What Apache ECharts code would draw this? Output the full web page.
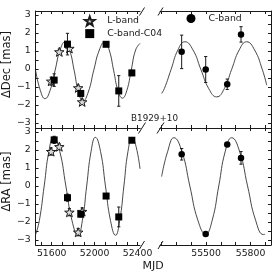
<!DOCTYPE html>
<html><head><meta charset="utf-8">
<script src="https://cdn.jsdelivr.net/npm/echarts@6/dist/echarts.min.js"></script>
<style>html,body{margin:0;padding:0;background:#fff}#c{width:274px;height:274px}</style>
</head><body><div id="c"></div>
<script>
// ---------- data ----------
const lbandMJD    = [51595, 51671, 51765, 51847, 51884];
const lbandDec    = [-0.68, 0.95, 1.14, -1.05, -1.83];
const lbandDecErr = [0.22, 0.15, 0.15, 0.15, 0.15];
const lbandRA     = [1.91, 2.18, -1.46, -2.57, -1.42];
const lbandRAErr  = [0.2, 0.15, 0.2, 0.2, 0.2];

const c04MJD    = [51623, 51747, 51871, 52107, 52225, 52347];
const c04Dec    = [-0.62, 1.38, -1.36, 1.37, -1.22, -0.22];
const c04DecErr = [0.35, 0.6, 0.15, 0.1, 0.85, 0.15];
const c04RA     = [2.56, -0.65, -1.57, -0.56, -1.72, 2.54];
const c04RAErr  = [0.2, 0.2, 0.15, 0.1, 0.55, 0.1];

const cbandMJD    = [55336, 55498, 55643, 55736];
const cbandDec    = [0.95, -0.03, -0.85, 1.92];
const cbandDecErr = [0.93, 0.72, 0.29, 0.43];
const cbandRA     = [1.76, -2.67, 2.30, 1.56];
const cbandRAErr  = [0.32, 0.08, 0.08, 0.35];

// model curves (points read along the drawn fit)
const modelDecEarlyMJD = [51450,51494,51538,51585,51632,51678,51725,51767,51809,51850,51891,51941,51992,52044,52095,52136,52177,52218,52259,52300,52341,52382,52423];
const modelDecEarly    = [-0.07,-1.19,-1.65,-1.19,-0.07,1.05,1.51,1.05,-0.07,-1.28,-1.78,-1.28,-0.07,1.05,1.51,1.05,-0.07,-1.2,-1.62,-1.2,-0.07,1.05,1.42];
const modelRAEarlyMJD  = [51450,51485,51530,51574,51618,51675,51732,51789,51845,51886,51926,51967,52007,52055,52101,52148,52195,52234,52273,52311,52350,52386,52423];
const modelRAEarly     = [-2.70,-1.92,0,1.92,2.72,1.92,0,-1.92,-2.74,-1.92,0,1.92,2.70,1.92,0,-1.92,-2.74,-1.92,0,1.92,2.68,2.2,0.95];
const modelDecLateMJD  = [55201,55220,55265,55311,55358,55412,55465,55519,55572,55623,55673,55724,55774,55827,55879,55909];
const modelDecLate     = [-1.36,-1.08,-0.02,1.06,1.51,1.06,-0.02,-1.1,-1.55,-1.1,-0.02,1.06,1.51,1.06,-0.02,-0.9];
const modelRALateMJD   = [55201,55241,55284,55338,55391,55445,55498,55542,55586,55629,55673,55727,55780,55834,55887,55898];
const modelRALate      = [0.52,1.9,2.68,1.9,0,-1.9,-2.67,-1.9,0,1.9,2.68,1.9,0,-1.9,-2.7,-2.68];

// axes
const earlyRange = [51450, 52423];
const lateRange  = [55190, 55938];
const yRange     = [-3.28, 3.22];
const earlyTicks  = [51500,51600,51700,51800,51900,52000,52100,52200,52300,52400];
const earlyLabels = [51600, 52000, 52400];
const lateTicks   = [55200,55300,55400,55500,55600,55700,55800,55900];
const lateLabels  = [55500, 55800];
const yTicks  = [-3,-2.5,-2,-1.5,-1,-0.5,0,0.5,1,1.5,2,2.5,3];
const yLabels = [-3,-2,-1,0,1,2,3];

// ---------- chart ----------
const INK = '#1a1a1a';
const FONT = 'DejaVu Sans';
const zip = (xs, ys) => xs.map((x, i) => [x, ys[i]]);
const zip3 = (xs, ys, es) => xs.map((x, i) => [x, ys[i], es[i]]);
const STAR = 'path://M0,-10 L2.35,-3.24 L9.51,-3.09 L3.8,1.24 L5.88,8.09 L0,4 L-5.88,8.09 L-3.8,1.24 L-9.51,-3.09 L-2.35,-3.24 Z';
const SQUARE = 'path://M0,0 L10,0 L10,10 L0,10 Z';
const DOT = 'path://M5,0 A5,5 0 1 1 4.99,0 Z';

function errItem(params, api) {
  const x = api.value(0), y = api.value(1), e = api.value(2);
  const t = api.coord([x, y + e]), b = api.coord([x, y - e]);
  const c = 1.6, st = {stroke: INK, lineWidth: 1};
  return {type: 'group', children: [
    {type: 'line', shape: {x1: t[0], y1: t[1], x2: b[0], y2: b[1]}, style: st},
    {type: 'line', shape: {x1: t[0]-c, y1: t[1], x2: t[0]+c, y2: t[1]}, style: st},
    {type: 'line', shape: {x1: b[0]-c, y1: b[1], x2: b[0]+c, y2: b[1]}, style: st}
  ]};
}

const grids = [
  {left: 33, top: 11, width: 107, height: 117},
  {left: 160, top: 11, width: 111, height: 117},
  {left: 33, top: 128, width: 107, height: 117},
  {left: 160, top: 128, width: 111, height: 117}
];

const xAxes = [], yAxes = [];
grids.forEach((g, i) => {
  const early = (i % 2 === 0);
  const range = early ? earlyRange : lateRange;
  const ticks = early ? earlyTicks : lateTicks;
  const labels = early ? earlyLabels : lateLabels;
  const bottomRow = i >= 2;
  ['bottom', 'top'].forEach(pos => {
    xAxes.push({
      type: 'value', gridIndex: i, position: pos, min: range[0], max: range[1],
      axisLine: {show: true, onZero: false, lineStyle: {color: INK, width: 1}},
      axisTick: {show: true, inside: true, length: 3, customValues: ticks, lineStyle: {color: INK}},
      axisLabel: {show: pos === 'bottom' && bottomRow, customValues: labels, margin: 4,
        color: INK, fontSize: 9.3, fontFamily: FONT, formatter: v => String(v)},
      splitLine: {show: false}
    });
  });
  yAxes.push({
    type: 'value', gridIndex: i, position: early ? 'left' : 'right', min: yRange[0], max: yRange[1],
    axisLine: {show: true, onZero: false, lineStyle: {color: INK, width: 1}},
    axisTick: {show: true, inside: true, length: 3, customValues: yTicks, lineStyle: {color: INK}},
    axisLabel: {show: early, customValues: yLabels, margin: 5, color: INK, fontSize: 9.3, fontFamily: FONT,
      formatter: v => (v < 0 ? '\u2212' + (-v) : '' + v)},
    splitLine: {show: false},
    name: early ? (i === 0 ? 'ΔDec [mas]' : 'ΔRA [mas]') : '',
    nameLocation: 'middle', nameGap: 20,
    nameTextStyle: {color: INK, fontSize: 11.5, fontFamily: FONT, padding: [0, 0, 0, 10]}
  });
});

const series = [];
function addPanel(gi, modelX, modelY, sets) {
  series.push({type: 'line', xAxisIndex: gi*2, yAxisIndex: gi, data: zip(modelX, modelY),
    showSymbol: false, smooth: 0.5, lineStyle: {color: '#333', width: 0.9}, silent: true, z: 1});
  sets.forEach(s => {
    series.push({type: 'custom', xAxisIndex: gi*2, yAxisIndex: gi, renderItem: errItem,
      data: zip3(s.x, s.y, s.e), z: s.z, silent: true});
    series.push({type: 'scatter', name: s.name, xAxisIndex: gi*2, yAxisIndex: gi, data: zip(s.x, s.y),
      symbol: s.symbol, symbolSize: s.size, symbolKeepAspect: true, z: s.z + 1,
      itemStyle: {color: s.fill, borderColor: INK, borderWidth: s.bw, opacity: 1}});
  });
}
const L = (y, e) => ({name: 'L-band', x: lbandMJD, y, e, symbol: STAR, size: 9.5, fill: '#d8d8d8', bw: 1, z: 3});
const C4 = (y, e) => ({name: 'C-band-C04', x: c04MJD, y, e, symbol: SQUARE, size: 7, fill: '#000', bw: 0, z: 5});
const CB = (y, e) => ({name: 'C-band', x: cbandMJD, y, e, symbol: DOT, size: 6.5, fill: '#000', bw: 0, z: 5});

addPanel(0, modelDecEarlyMJD, modelDecEarly, [L(lbandDec, lbandDecErr), C4(c04Dec, c04DecErr)]);
addPanel(1, modelDecLateMJD, modelDecLate, [CB(cbandDec, cbandDecErr)]);
addPanel(2, modelRAEarlyMJD, modelRAEarly, [L(lbandRA, lbandRAErr), C4(c04RA, c04RAErr)]);
addPanel(3, modelRALateMJD, modelRALate, [CB(cbandRA, cbandRAErr)]);

// axis-break marks
const slash = (cx, cy, dx, dy) => ({type: 'line', silent: true,
  shape: {x1: cx - dx, y1: cy + dy, x2: cx + dx, y2: cy - dy}, style: {stroke: INK, lineWidth: 1}});
const breaks = [];
[142, 160.5].forEach(cx => {
  breaks.push(slash(cx, 11.5, 2.5, 4));
  breaks.push(slash(cx, 128, 3.5, 5.5));
  breaks.push(slash(cx, 245, 2.5, 4));
});

const chart = echarts.init(document.getElementById('c'), null, {renderer: 'canvas'});
chart.setOption({
  animation: false,
  backgroundColor: '#fff',
  textStyle: {fontFamily: FONT},
  title: {text: 'B1929+10', left: 131, top: 114.5, padding: 0,
    textStyle: {color: INK, fontSize: 8.8, fontWeight: 'normal', fontFamily: FONT}},
  legend: [
    {data: ['L-band', 'C-band-C04'], orient: 'vertical', left: 84, top: 15.5, padding: 0,
      itemWidth: 25, itemHeight: 9, itemGap: 2.6, selectedMode: false,
      textStyle: {color: INK, fontSize: 9.3, fontFamily: FONT}},
    {data: ['C-band'], orient: 'vertical', left: 186.5, top: 14, padding: 0,
      itemWidth: 25, itemHeight: 9, selectedMode: false,
      textStyle: {color: INK, fontSize: 9.3, fontFamily: FONT}}
  ],
  grid: grids,
  xAxis: xAxes,
  yAxis: yAxes,
  series: series,
  graphic: breaks.concat([
    {type: 'text', silent: true, style: {text: 'MJD', x: 153, y: 266.5, textAlign: 'center',
      textVerticalAlign: 'middle', font: '11px "DejaVu Sans"', fill: INK}}
  ])
});
</script></body></html>
